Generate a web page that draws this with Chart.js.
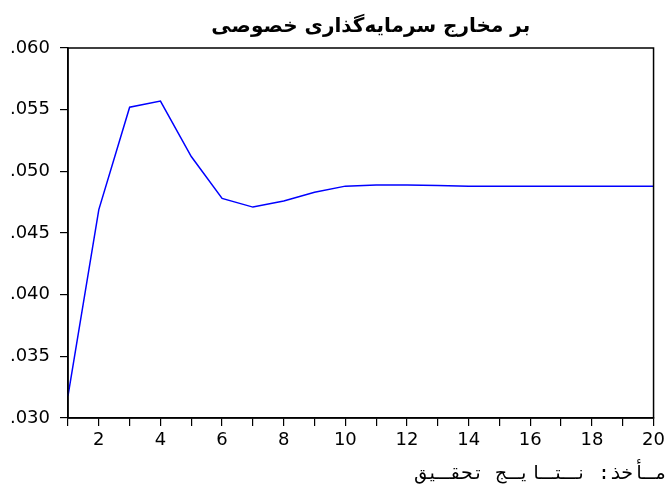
<!DOCTYPE html>
<html>
<head>
<meta charset="utf-8">
<script src="https://cdn.jsdelivr.net/npm/chart.js@4"></script>
<style>
  html, body { margin: 0; padding: 0; background: #fff; }
  #wrap { width: 669px; height: 485px; }
</style>
</head>
<body>
<div id="wrap"><canvas id="irfChart" width="669" height="485"></canvas></div>
<script>
// Chart data
const chartTitle = 'بر مخارج سرمایه‌گذاری خصوصی';
const sourceNote = 'مـأخذ: نـتـایـج تحقـیق';
const periods = ['1', '2', '3', '4', '5', '6', '7', '8', '9', '10',
  '11', '12', '13', '14', '15', '16', '17', '18', '19', '20'];
const responseValues = [0.0318, 0.0469, 0.0552, 0.0557, 0.0512, 0.0478, 0.0471,
  0.0476, 0.0483, 0.0488, 0.0489, 0.0489, 0.04885, 0.0488, 0.0488, 0.0488,
  0.0488, 0.0488, 0.0488, 0.0488];
const yMin = 0.030;
const yMax = 0.060;
const yStep = 0.005;

// Frame around the plot plus title and source note
const framePlugin = {
  id: 'frame',
  afterDraw(chart) {
    const { ctx, chartArea } = chart;
    ctx.save();
    ctx.strokeStyle = '#000';
    ctx.lineWidth = 1.5;
    ctx.strokeRect(chartArea.left, chartArea.top,
      chartArea.right - chartArea.left, chartArea.bottom - chartArea.top);

    ctx.fillStyle = '#000';
    ctx.textBaseline = 'middle';
    ctx.textAlign = 'center';
    ctx.font = 'bold 20px "DejaVu Sans"';
    ctx.fillText(chartTitle, (chartArea.left + chartArea.right) / 2 + 10, 27);

    ctx.textAlign = 'right';
    ctx.font = '19px "DejaVu Sans Mono", "DejaVu Sans"';
    ctx.fillText(sourceNote, 667, 474);
    ctx.restore();
  },
};

const ctx = document.getElementById('irfChart').getContext('2d');
new Chart(ctx, {
  type: 'line',
  data: {
    labels: periods,
    datasets: [
      {
        data: responseValues,
        borderColor: '#0000ff',
        borderWidth: 1.5,
        pointRadius: 0,
        tension: 0,
        fill: false,
      },
    ],
  },
  options: {
    responsive: false,
    animation: false,
    layout: { padding: { top: 48, right: 14, left: 0, bottom: 0 } },
    plugins: {
      legend: { display: false },
      tooltip: { enabled: false },
    },
    scales: {
      x: {
        offset: false,
        grid: {
          drawOnChartArea: false,
          drawTicks: true,
          tickLength: 8,
          color: '#000',
          lineWidth: 1.2,
        },
        border: { color: '#000', width: 1.5 },
        ticks: {
          autoSkip: false,
          maxRotation: 0,
          padding: 4,
          color: '#000',
          font: { family: 'DejaVu Sans', size: 18 },
          callback: (val, i) => (Number(periods[i]) % 2 === 0 ? periods[i] : ''),
        },
        afterFit: (scale) => { scale.height = 67; },
      },
      y: {
        min: yMin,
        max: yMax,
        grid: {
          drawOnChartArea: false,
          drawTicks: true,
          tickLength: 8,
          color: '#000',
          lineWidth: 1.2,
        },
        border: { color: '#000', width: 1.5 },
        ticks: {
          stepSize: yStep,
          padding: 10,
          color: '#000',
          font: { family: 'DejaVu Sans', size: 18 },
          callback: (val) => val.toFixed(3).replace(/^0/, ''),
        },
        afterFit: (scale) => { scale.width = 68; },
      },
    },
  },
  plugins: [framePlugin],
});
</script>
</body>
</html>
